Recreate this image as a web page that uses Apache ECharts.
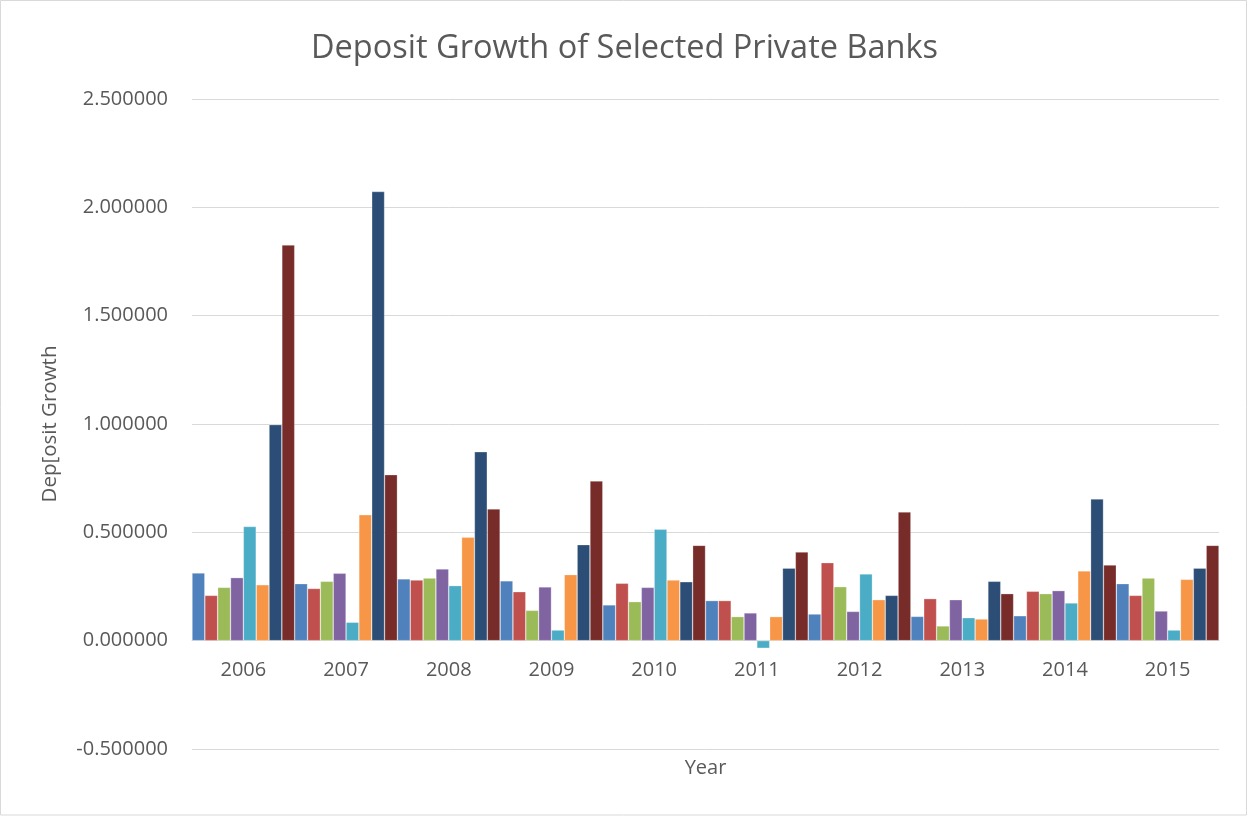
<!DOCTYPE html>
<html>
<head>
<meta charset="utf-8">
<title>Deposit Growth of Selected Private Banks</title>
<script src="https://cdn.jsdelivr.net/npm/echarts@6/dist/echarts.min.js"></script>
<style>
  html, body { margin: 0; padding: 0; background: #ffffff; }
  #chart { width: 1249px; height: 817px; }
</style>
</head>
<body>
<div id="chart"></div>
<script>
// Years on the category axis
const years = ['2006', '2007', '2008', '2009', '2010', '2011', '2012', '2013', '2014', '2015'];

// Deposit growth per bank, one value per year
const bank1 = [0.312, 0.263, 0.285, 0.276, 0.165, 0.185, 0.123, 0.112, 0.115, 0.263];
const bank2 = [0.209, 0.241, 0.280, 0.226, 0.265, 0.185, 0.360, 0.194, 0.228, 0.209];
const bank3 = [0.246, 0.274, 0.289, 0.140, 0.180, 0.111, 0.249, 0.068, 0.217, 0.289];
const bank4 = [0.291, 0.311, 0.331, 0.248, 0.246, 0.128, 0.135, 0.189, 0.231, 0.137];
const bank5 = [0.527, 0.085, 0.254, 0.049, 0.514, -0.035, 0.308, 0.106, 0.174, 0.049];
const bank6 = [0.258, 0.581, 0.477, 0.305, 0.280, 0.111, 0.189, 0.100, 0.322, 0.283];
const bank7 = [0.997, 2.073, 0.872, 0.443, 0.272, 0.335, 0.209, 0.274, 0.654, 0.335];
const bank8 = [1.826, 0.766, 0.608, 0.737, 0.440, 0.409, 0.594, 0.217, 0.349, 0.440];

const seriesNames = ['Bank 1', 'Bank 2', 'Bank 3', 'Bank 4', 'Bank 5', 'Bank 6', 'Bank 7', 'Bank 8'];
const seriesValues = [bank1, bank2, bank3, bank4, bank5, bank6, bank7, bank8];
const seriesColors = ['#4F81BD', '#C0504D', '#9BBB59', '#8064A2', '#4BACC6', '#F79646', '#2C4D75', '#772C2A'];

// Value axis range and step
const yMin = -0.5;
const yMax = 2.5;
const yStep = 0.5;

const textColor = '#595959';
const gridColor = '#d9d9d9';
const fontFamily = '"Open Sans", "Noto Sans", sans-serif';

// Plot area placement
const gridTop = 99;
const gridBottom = 68;
const chartHeight = 817;
const plotHeight = chartHeight - gridTop - gridBottom;
// Lift the category axis from the bottom edge up to the zero line
const zeroLift = plotHeight * (0 - yMin) / (yMax - yMin);

const chart = echarts.init(document.getElementById('chart'), null, { renderer: 'canvas' });

chart.setOption({
  animation: false,
  backgroundColor: '#ffffff',
  textStyle: { fontFamily: fontFamily },
  title: {
    text: 'Deposit Growth of Selected Private Banks',
    left: 'center',
    top: 27,
    textStyle: { color: textColor, fontSize: 32.5, fontWeight: 'normal', fontFamily: fontFamily }
  },
  graphic: [{
    type: 'rect',
    shape: { x: 0.5, y: 0.5, width: 1246, height: 814.5 },
    style: { fill: 'none', stroke: gridColor, lineWidth: 1 },
    silent: true
  }],
  grid: { left: 192, right: 30, top: gridTop, bottom: gridBottom, containLabel: false, outerBoundsMode: 'none' },
  xAxis: {
    type: 'category',
    data: years,
    position: 'bottom',
    offset: -zeroLift,
    name: 'Year',
    nameLocation: 'middle',
    nameGap: 118,
    nameTextStyle: { color: textColor, fontSize: 20, fontFamily: fontFamily },
    axisLine: { onZero: false, lineStyle: { color: gridColor, width: 1 } },
    axisTick: { show: false },
    axisLabel: { color: textColor, fontSize: 20, margin: 20, fontFamily: fontFamily }
  },
  yAxis: {
    type: 'value',
    min: yMin,
    max: yMax,
    interval: yStep,
    name: 'Dep[osit Growth',
    nameLocation: 'middle',
    nameGap: 131,
    nameTextStyle: { color: textColor, fontSize: 20.5, fontFamily: fontFamily },
    axisLine: { show: false },
    axisTick: { show: false },
    splitLine: { lineStyle: { color: gridColor, width: 1 } },
    axisLabel: {
      color: textColor,
      fontSize: 20,
      margin: 24,
      fontFamily: fontFamily,
      formatter: v => v.toFixed(6)
    }
  },
  series: seriesNames.map((name, i) => ({
    name: name,
    type: 'bar',
    data: seriesValues[i],
    barGap: '0%',
    barCategoryGap: '0%',
    itemStyle: { color: seriesColors[i], borderColor: 'rgba(255,255,255,0.45)', borderWidth: 0.6 }
  }))
});
</script>
</body>
</html>
